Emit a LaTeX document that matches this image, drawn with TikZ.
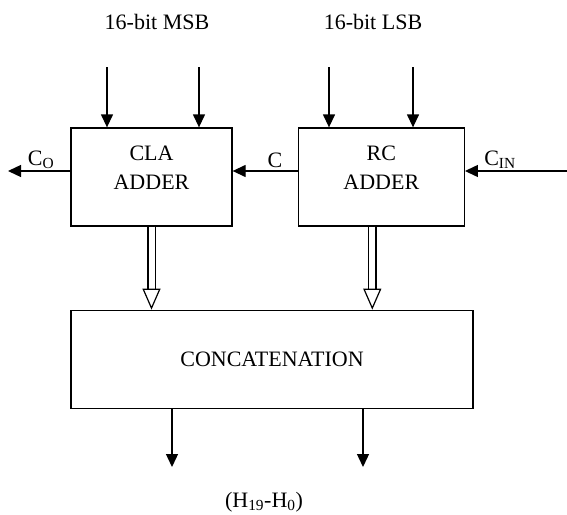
\documentclass[tikz,border=0pt]{standalone}
\usepackage{fontspec}
\setmainfont{Liberation Serif}
\usetikzlibrary{positioning, arrows.meta}

\tikzset{
    block/.style={draw, rectangle, line width=1.3pt, align=center, font=\fontsize{22}{29}\selectfont},
    sig/.style={line width=1.3pt, -{Triangle[length=13pt, width=12pt]}},
    bus/.style={line width=1.2pt, double, double distance=6pt, -{Triangle[open, length=21pt, width=18pt]}},
    lbl/.style={inner sep=0pt, font=\fontsize{22}{26}\selectfont}
}

\begin{document}
\begin{tikzpicture}[x=1pt, y=1pt]
    \useasboundingbox (0,0) rectangle (567,-514);

    % adders
    \node[block, minimum width=161pt, minimum height=98pt] (cla) at (151.5,-177) {CLA\\ADDER\\[-11pt]};
    \node[block, minimum width=166pt, minimum height=98pt, right=65pt of cla] (rc) {RC\\ADDER\\[-11pt]};
    \node[
        block,
        minimum width=402pt,
        minimum height=98pt,
        below=83pt of cla.south west,
        anchor=north west   % <-- keep left edges lined up
    ] (cat) {CONCATENATION};

    % inputs
    \node[lbl] (msb) at (157,-22) {16-bit MSB};
    \node[lbl] (lsb) at (373,-22) {16-bit LSB};
    \coordinate (m1) at (107,-67);
    \coordinate (m2) at (199,-67);
    \coordinate (l1) at (329,-67);
    \coordinate (l2) at (413,-67);
    \draw[sig] (m1) -- (m1 |- cla.north);
    \draw[sig] (m2) -- (m2 |- cla.north);
    \draw[sig] (l1) -- (l1 |- rc.north);
    \draw[sig] (l2) -- (l2 |- rc.north);

    % carries
    \coordinate (co) at (8,-171);
    \coordinate (cin) at (567,-171);
    \draw[sig] ([yshift=6pt]cla.west) -- (co);
    \draw[sig] ([yshift=6pt]rc.west) -- ([yshift=6pt]cla.east);
    \draw[sig] (cin) -- ([yshift=6pt]rc.east);
    \node[lbl] (colbl) at (41,-160) {C\textsubscript{O}};
    \node[lbl] (clbl) at (275,-160) {C};
    \node[lbl] (cinlbl) at (500,-160) {C\textsubscript{IN}};

    % sums
    \draw[bus] (cla.south) -- (cla.south |- cat.north);
    \draw[bus] ([xshift=-9pt]rc.south) -- ([xshift=-9pt]rc.south |- cat.north);

    % outputs
    \coordinate (o1) at (172,-467);
    \coordinate (o2) at (363,-467);
    \draw[sig] (o1 |- cat.south) -- (o1);
    \draw[sig] (o2 |- cat.south) -- (o2);
    \node[lbl] (out) at (264,-502) {(H\textsubscript{19}-H\textsubscript{0})};
\end{tikzpicture}
\end{document}
